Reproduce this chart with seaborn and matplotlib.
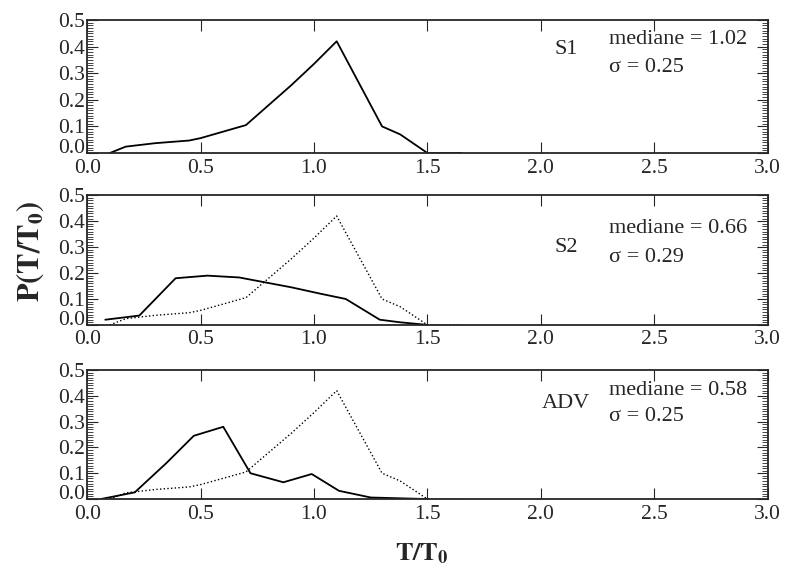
import matplotlib
matplotlib.use("Agg")
import matplotlib.pyplot as plt
import seaborn as sns
from matplotlib.ticker import MultipleLocator

# reference distribution (S1), also drawn dotted in the lower panels
s1_x = [0.10, 0.17, 0.30, 0.45, 0.50, 0.70, 0.90, 1.00, 1.10, 1.30, 1.38, 1.50, 1.65]
s1_y = [0.0, 0.024, 0.037, 0.047, 0.056, 0.105, 0.255, 0.335, 0.42, 0.10, 0.07, 0.0, 0.0]

s2_x = [0.08, 0.23, 0.39, 0.53, 0.67, 0.90, 1.03, 1.14, 1.29, 1.38, 1.50]
s2_y = [0.02, 0.036, 0.18, 0.19, 0.183, 0.145, 0.12, 0.10, 0.02, 0.01, 0.0]

adv_x = [0.06, 0.21, 0.35, 0.47, 0.60, 0.72, 0.865, 0.99, 1.11, 1.25, 1.50]
adv_y = [0.0, 0.026, 0.14, 0.245, 0.28, 0.10, 0.065, 0.097, 0.032, 0.006, 0.0]

labels = ["S1", "S2", "ADV"]
medianes = ["1.02", "0.66", "0.58"]
sigmas = ["0.25", "0.29", "0.25"]

sns.set_style("ticks")
plt.rcParams['font.family'] = ['Liberation Serif', 'DejaVu Serif']
plt.rcParams['mathtext.fontset'] = 'stix'

fig = plt.figure(figsize=(7.85, 5.71), dpi=100)
rects = [[0.111, 0.732, 0.867, 0.233],
         [0.111, 0.431, 0.867, 0.227],
         [0.111, 0.126, 0.867, 0.226]]
series = [(s1_x, s1_y), (s2_x, s2_y), (adv_x, adv_y)]
# label positions (y of name, mediane, sigma) in data units
text_y = [(0.39, 0.425, 0.32), (0.30, 0.37, 0.26), (0.37, 0.42, 0.32)]

axes = []
for i, rect in enumerate(rects):
    ax = fig.add_axes(rect)
    axes.append(ax)
    if i > 0:
        sns.lineplot(x=s1_x, y=s1_y, ax=ax, color='black', lw=1.0, linestyle=':')
    xs, ys = series[i]
    sns.lineplot(x=xs, y=ys, ax=ax, color='black', lw=1.3)
    ax.set_xlim(0, 3.0)
    ax.set_ylim(0, 0.5)
    ax.set_xticks([0.0, 0.5, 1.0, 1.5, 2.0, 2.5, 3.0])
    ax.set_yticks([0.0, 0.1, 0.2, 0.3, 0.4, 0.5])
    ax.yaxis.set_minor_locator(MultipleLocator(0.01))
    ax.set_xticklabels([f"{v:.1f}" for v in ax.get_xticks()])
    ax.set_yticklabels([f"{v:.1f}" for v in ax.get_yticks()])
    ax.tick_params(which='both', direction='in', top=True, right=True,
                   labelsize=15.5, width=0.8)
    ax.tick_params(axis='x', pad=4)
    ax.tick_params(axis='y', pad=1.5)
    ax.tick_params(which='major', length=8)
    ax.tick_params(which='minor', length=4.5, width=0.6, top=False, bottom=False)
    # bottom y label sits just above the axis line, like the original
    for lab in ax.get_yticklabels():
        if lab.get_text() == "0.0":
            lab.set_verticalalignment('baseline')
    for sp in ax.spines.values():
        sp.set_linewidth(1.3)
    ny, my, sy = text_y[i]
    ax.text(2.11, ny, labels[i], fontsize=16, ha='center', va='center')
    ax.text(2.30, my, f"mediane = {medianes[i]}", fontsize=16, ha='left', va='center')
    ax.text(2.30, sy, f"σ = {sigmas[i]}", fontsize=16, ha='left', va='center')

fig.text(0.038, 0.56, r"$\mathbf{P(T/T_0)}$", rotation=90, fontsize=22,
         ha='center', va='center')
fig.text(0.538, 0.03, r"$\mathbf{T/T_0}$", fontsize=19, ha='center', va='center')

fig.savefig("out.png", dpi=100)
